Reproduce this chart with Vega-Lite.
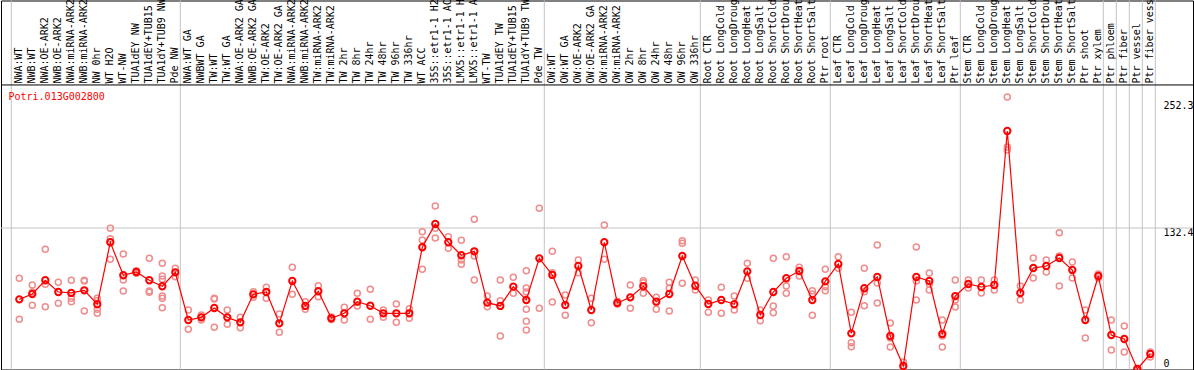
{
  "$schema": "https://vega.github.io/schema/vega-lite/v6.json",
  "autosize": {"type": "none"},
  "padding": {"left": 1, "top": 0.5, "right": 1, "bottom": 0.5},
  "width": 1192,
  "height": 369,
  "background": "white",
  "config": {"view": {"stroke": "black", "strokeWidth": 1}},
  "title": {"text": "Potri.013G002800", "anchor": "start", "offset": -103, "dx": 8, "color": "#ff0000", "font": "DejaVu Sans Mono", "fontSize": 10, "fontWeight": "normal"},
  "datasets": {
    "means": [
      {"sample": "NWA:WT", "value": 65.4}, {"sample": "NWB:WT", "value": 70.4}, {"sample": "NWA:OE-ARK2", "value": 83.3}, {"sample": "NWB:OE-ARK2", "value": 72.3},
      {"sample": "NWA:miRNA-ARK2", "value": 71.4}, {"sample": "NWB:miRNA-ARK2", "value": 73.9}, {"sample": "NW 0hr", "value": 60.8}, {"sample": "WT H2O", "value": 119.0},
      {"sample": "WT-NW", "value": 88.0}, {"sample": "TUA1dEY NW", "value": 91.1}, {"sample": "TUA1dEY+TUB15 NW", "value": 83.3}, {"sample": "TUA1dY+TUB9 NW", "value": 77.7},
      {"sample": "Pde NW", "value": 90.8}, {"sample": "NWA:WT GA", "value": 46.0}, {"sample": "NWBWT GA", "value": 48.5}, {"sample": "TW:WT", "value": 57.3},
      {"sample": "TW:WT GA", "value": 48.5}, {"sample": "NWA:OE-ARK2 GA", "value": 43.8}, {"sample": "NWB:OE-ARK2 GA", "value": 70.1}, {"sample": "TW:OE-ARK2", "value": 72.3},
      {"sample": "TW:OE-ARK2 GA", "value": 42.9}, {"sample": "NWA:miRNA-ARK2 GA", "value": 82.6}, {"sample": "NWB:miRNA-ARK2 GA", "value": 59.2}, {"sample": "TW:miRNA-ARK2", "value": 73.0},
      {"sample": "TW:miRNA-ARK2 GA", "value": 47.6}, {"sample": "TW 2hr", "value": 52.3}, {"sample": "TW 8hr", "value": 63.2}, {"sample": "TW 24hr", "value": 59.4},
      {"sample": "TW 48hr", "value": 52.3}, {"sample": "TW 96hr", "value": 52.3}, {"sample": "TW 336hr", "value": 52.3}, {"sample": "WT ACC", "value": 114.3},
      {"sample": "35S::etr1-1 H2O", "value": 136.2}, {"sample": "35S::etr1-1 ACC", "value": 119.0}, {"sample": "LMX5::etr1-1 H2O", "value": 106.8}, {"sample": "LMX5::etr1-1 ACC", "value": 110.5},
      {"sample": "WT-TW", "value": 62.3}, {"sample": "TUA1dEY TW", "value": 59.2}, {"sample": "TUA1dEY+TUB15 TW", "value": 77.3}, {"sample": "TUA1dY+TUB9 TW", "value": 64.8},
      {"sample": "Pde TW", "value": 103.9}, {"sample": "OW:WT", "value": 88.3}, {"sample": "OW:WT GA", "value": 60.1}, {"sample": "OW:OE-ARK2", "value": 96.7},
      {"sample": "OW:OE-ARK2 GA", "value": 55.4}, {"sample": "OW:miRNA-ARK2", "value": 119.0}, {"sample": "OW:miRNA-ARK2 GA", "value": 62.0}, {"sample": "OW 2hr", "value": 67.3},
      {"sample": "OW 8hr", "value": 77.7}, {"sample": "OW 24hr", "value": 63.2}, {"sample": "OW 48hr", "value": 70.4}, {"sample": "OW 96hr", "value": 106.1},
      {"sample": "OW 336hr", "value": 78.2}, {"sample": "Root CTR", "value": 61.0}, {"sample": "Root LongCold", "value": 64.8}, {"sample": "Root LongDrought", "value": 60.8},
      {"sample": "Root LongHeat", "value": 91.7}, {"sample": "Root LongSalt", "value": 50.7}, {"sample": "Root ShortCold", "value": 72.3}, {"sample": "Root ShortDrought", "value": 85.2},
      {"sample": "Root ShortHeat", "value": 92.0}, {"sample": "Root ShortSalt", "value": 64.8}, {"sample": "Ptr root", "value": 82.3}, {"sample": "Leaf CTR", "value": 98.6},
      {"sample": "Leaf LongCold", "value": 33.5}, {"sample": "Leaf LongDrought", "value": 75.8}, {"sample": "Leaf LongHeat", "value": 86.4}, {"sample": "Leaf LongSalt", "value": 31.0},
      {"sample": "Leaf ShortCold", "value": 2.8}, {"sample": "Leaf ShortDrought", "value": 86.4}, {"sample": "Leaf ShortHeat", "value": 82.6}, {"sample": "Leaf ShortSalt", "value": 32.9},
      {"sample": "Ptr leaf", "value": 68.5}, {"sample": "Stem CTR", "value": 79.8}, {"sample": "Stem LongCold", "value": 77.0}, {"sample": "Stem LongDrought", "value": 78.9},
      {"sample": "Stem LongHeat", "value": 223.5}, {"sample": "Stem LongSalt", "value": 71.4}, {"sample": "Stem ShortCold", "value": 94.8}, {"sample": "Stem ShortDrought", "value": 96.7},
      {"sample": "Stem ShortHeat", "value": 104.2}, {"sample": "Stem ShortSalt", "value": 93.0}, {"sample": "Ptr shoot", "value": 46.0}, {"sample": "Ptr xylem", "value": 87.3},
      {"sample": "Ptr phloem", "value": 31.9}, {"sample": "Ptr fiber", "value": 28.2}, {"sample": "Ptr vessel", "value": 0}, {"sample": "Ptr fiber vessel", "value": 14.1}
    ],
    "reps": [
      {"sample": "NWA:WT", "value": 85.2}, {"sample": "NWA:WT", "value": 46.7},
      {"sample": "NWB:WT", "value": 78.9}, {"sample": "NWB:WT", "value": 59.8}, {"sample": "NWB:WT", "value": 72.3},
      {"sample": "NWA:OE-ARK2", "value": 112.4}, {"sample": "NWA:OE-ARK2", "value": 79.5}, {"sample": "NWA:OE-ARK2", "value": 58.5},
      {"sample": "NWB:OE-ARK2", "value": 81.4}, {"sample": "NWB:OE-ARK2", "value": 61.7},
      {"sample": "NWA:miRNA-ARK2", "value": 83.3}, {"sample": "NWA:miRNA-ARK2", "value": 66.4}, {"sample": "NWA:miRNA-ARK2", "value": 63.2},
      {"sample": "NWB:miRNA-ARK2", "value": 83.3}, {"sample": "NWB:miRNA-ARK2", "value": 54.5}, {"sample": "NWB:miRNA-ARK2", "value": 82.6},
      {"sample": "NW 0hr", "value": 66.4}, {"sample": "NW 0hr", "value": 64.1}, {"sample": "NW 0hr", "value": 56.1}, {"sample": "NW 0hr", "value": 52.3},
      {"sample": "WT H2O", "value": 132.1}, {"sample": "WT H2O", "value": 122.3}, {"sample": "WT H2O", "value": 103.0},
      {"sample": "WT-NW", "value": 108.0}, {"sample": "WT-NW", "value": 83.6}, {"sample": "WT-NW", "value": 73.2},
      {"sample": "TUA1dEY NW", "value": 92.3}, {"sample": "TUA1dEY NW", "value": 89.9},
      {"sample": "TUA1dEY+TUB15 NW", "value": 103.9}, {"sample": "TUA1dEY+TUB15 NW", "value": 73.2}, {"sample": "TUA1dEY+TUB15 NW", "value": 72.0},
      {"sample": "TUA1dY+TUB9 NW", "value": 99.2}, {"sample": "TUA1dY+TUB9 NW", "value": 87.3}, {"sample": "TUA1dY+TUB9 NW", "value": 84.2}, {"sample": "TUA1dY+TUB9 NW", "value": 68.5}, {"sample": "TUA1dY+TUB9 NW", "value": 66.4}, {"sample": "TUA1dY+TUB9 NW", "value": 57.6},
      {"sample": "Pde NW", "value": 94.6}, {"sample": "Pde NW", "value": 86.7},
      {"sample": "NWA:WT GA", "value": 55.4}, {"sample": "NWA:WT GA", "value": 37.3},
      {"sample": "NWBWT GA", "value": 50.7}, {"sample": "NWBWT GA", "value": 46.0},
      {"sample": "TW:WT", "value": 66.4}, {"sample": "TW:WT", "value": 39.2}, {"sample": "TW:WT", "value": 65.7},
      {"sample": "TW:WT GA", "value": 55.4}, {"sample": "TW:WT GA", "value": 42.0},
      {"sample": "NWA:OE-ARK2 GA", "value": 48.5}, {"sample": "NWA:OE-ARK2 GA", "value": 38.8},
      {"sample": "NWB:OE-ARK2 GA", "value": 72.6}, {"sample": "NWB:OE-ARK2 GA", "value": 67.3},
      {"sample": "TW:OE-ARK2", "value": 76.7}, {"sample": "TW:OE-ARK2", "value": 66.4},
      {"sample": "TW:OE-ARK2 GA", "value": 51.6}, {"sample": "TW:OE-ARK2 GA", "value": 34.5},
      {"sample": "NWA:miRNA-ARK2 GA", "value": 95.5}, {"sample": "NWA:miRNA-ARK2 GA", "value": 70.1},
      {"sample": "NWB:miRNA-ARK2 GA", "value": 63.2}, {"sample": "NWB:miRNA-ARK2 GA", "value": 56.1},
      {"sample": "TW:miRNA-ARK2", "value": 78.2}, {"sample": "TW:miRNA-ARK2", "value": 67.9},
      {"sample": "TW:miRNA-ARK2 GA", "value": 48.8}, {"sample": "TW:miRNA-ARK2 GA", "value": 46.5},
      {"sample": "TW 2hr", "value": 57.9}, {"sample": "TW 2hr", "value": 46.0},
      {"sample": "TW 8hr", "value": 71.1}, {"sample": "TW 8hr", "value": 59.2},
      {"sample": "TW 24hr", "value": 74.8}, {"sample": "TW 24hr", "value": 46.7},
      {"sample": "TW 48hr", "value": 55.4}, {"sample": "TW 48hr", "value": 48.5},
      {"sample": "TW 96hr", "value": 61.0}, {"sample": "TW 96hr", "value": 43.8},
      {"sample": "TW 336hr", "value": 56.6}, {"sample": "TW 336hr", "value": 47.6},
      {"sample": "WT ACC", "value": 128.9}, {"sample": "WT ACC", "value": 121.1}, {"sample": "WT ACC", "value": 93.6},
      {"sample": "35S::etr1-1 H2O", "value": 153.1}, {"sample": "35S::etr1-1 H2O", "value": 132.1}, {"sample": "35S::etr1-1 H2O", "value": 123.0},
      {"sample": "35S::etr1-1 ACC", "value": 124.2}, {"sample": "35S::etr1-1 ACC", "value": 113.3},
      {"sample": "LMX5::etr1-1 H2O", "value": 120.8}, {"sample": "LMX5::etr1-1 H2O", "value": 102.3}, {"sample": "LMX5::etr1-1 H2O", "value": 98.3},
      {"sample": "LMX5::etr1-1 ACC", "value": 140.6}, {"sample": "LMX5::etr1-1 ACC", "value": 106.1}, {"sample": "LMX5::etr1-1 ACC", "value": 83.6},
      {"sample": "WT-TW", "value": 68.5}, {"sample": "WT-TW", "value": 58.5},
      {"sample": "TUA1dEY TW", "value": 83.6}, {"sample": "TUA1dEY TW", "value": 64.1}, {"sample": "TUA1dEY TW", "value": 31.0},
      {"sample": "TUA1dEY+TUB15 TW", "value": 86.1}, {"sample": "TUA1dEY+TUB15 TW", "value": 71.1},
      {"sample": "TUA1dY+TUB9 TW", "value": 92.3}, {"sample": "TUA1dY+TUB9 TW", "value": 76.1}, {"sample": "TUA1dY+TUB9 TW", "value": 72.3}, {"sample": "TUA1dY+TUB9 TW", "value": 56.1}, {"sample": "TUA1dY+TUB9 TW", "value": 44.8}, {"sample": "TUA1dY+TUB9 TW", "value": 36.6},
      {"sample": "Pde TW", "value": 150.9}, {"sample": "Pde TW", "value": 57.0},
      {"sample": "OW:WT", "value": 110.5}, {"sample": "OW:WT", "value": 90.4}, {"sample": "OW:WT", "value": 62.9},
      {"sample": "OW:WT GA", "value": 69.5}, {"sample": "OW:WT GA", "value": 50.4},
      {"sample": "OW:OE-ARK2", "value": 102.3}, {"sample": "OW:OE-ARK2", "value": 90.4},
      {"sample": "OW:OE-ARK2 GA", "value": 66.4}, {"sample": "OW:OE-ARK2 GA", "value": 43.5},
      {"sample": "OW:miRNA-ARK2", "value": 135.2}, {"sample": "OW:miRNA-ARK2", "value": 103.0},
      {"sample": "OW:miRNA-ARK2 GA", "value": 63.6}, {"sample": "OW:miRNA-ARK2 GA", "value": 61.0},
      {"sample": "OW 2hr", "value": 78.9}, {"sample": "OW 2hr", "value": 57.0},
      {"sample": "OW 8hr", "value": 82.9}, {"sample": "OW 8hr", "value": 81.0}, {"sample": "OW 8hr", "value": 71.1},
      {"sample": "OW 24hr", "value": 67.3}, {"sample": "OW 24hr", "value": 56.1},
      {"sample": "OW 48hr", "value": 81.4}, {"sample": "OW 48hr", "value": 75.8}, {"sample": "OW 48hr", "value": 54.5},
      {"sample": "OW 96hr", "value": 120.5}, {"sample": "OW 96hr", "value": 118.0}, {"sample": "OW 96hr", "value": 80.5},
      {"sample": "OW 336hr", "value": 83.6}, {"sample": "OW 336hr", "value": 74.2},
      {"sample": "Root CTR", "value": 64.8}, {"sample": "Root CTR", "value": 53.2},
      {"sample": "Root LongCold", "value": 76.7}, {"sample": "Root LongCold", "value": 52.3},
      {"sample": "Root LongDrought", "value": 68.5}, {"sample": "Root LongDrought", "value": 55.4},
      {"sample": "Root LongHeat", "value": 99.2}, {"sample": "Root LongHeat", "value": 85.2},
      {"sample": "Root LongSalt", "value": 55.4}, {"sample": "Root LongSalt", "value": 45.4},
      {"sample": "Root ShortCold", "value": 103.9}, {"sample": "Root ShortCold", "value": 59.2}, {"sample": "Root ShortCold", "value": 52.9},
      {"sample": "Root ShortDrought", "value": 105.4}, {"sample": "Root ShortDrought", "value": 77.9}, {"sample": "Root ShortDrought", "value": 71.1},
      {"sample": "Root ShortHeat", "value": 95.5}, {"sample": "Root ShortHeat", "value": 87.3},
      {"sample": "Root ShortSalt", "value": 73.5}, {"sample": "Root ShortSalt", "value": 70.4}, {"sample": "Root ShortSalt", "value": 50.4},
      {"sample": "Ptr root", "value": 93.6}, {"sample": "Ptr root", "value": 77.3}, {"sample": "Ptr root", "value": 73.5},
      {"sample": "Leaf CTR", "value": 105.4}, {"sample": "Leaf CTR", "value": 94.6},
      {"sample": "Leaf LongCold", "value": 53.2}, {"sample": "Leaf LongCold", "value": 24.7}, {"sample": "Leaf LongCold", "value": 20.9},
      {"sample": "Leaf LongDrought", "value": 94.6}, {"sample": "Leaf LongDrought", "value": 72.6}, {"sample": "Leaf LongDrought", "value": 59.4},
      {"sample": "Leaf LongHeat", "value": 116.4}, {"sample": "Leaf LongHeat", "value": 80.8}, {"sample": "Leaf LongHeat", "value": 62.0},
      {"sample": "Leaf LongSalt", "value": 43.2}, {"sample": "Leaf LongSalt", "value": 29.1}, {"sample": "Leaf LongSalt", "value": 20.7},
      {"sample": "Leaf ShortCold", "value": 6.6}, {"sample": "Leaf ShortCold", "value": 0.9},
      {"sample": "Leaf ShortDrought", "value": 114.6}, {"sample": "Leaf ShortDrought", "value": 82.6}, {"sample": "Leaf ShortDrought", "value": 64.8},
      {"sample": "Leaf ShortHeat", "value": 90.1}, {"sample": "Leaf ShortHeat", "value": 79.8}, {"sample": "Leaf ShortHeat", "value": 74.2},
      {"sample": "Leaf ShortSalt", "value": 46.0}, {"sample": "Leaf ShortSalt", "value": 31.0}, {"sample": "Leaf ShortSalt", "value": 20.7},
      {"sample": "Ptr leaf", "value": 83.6}, {"sample": "Ptr leaf", "value": 64.8}, {"sample": "Ptr leaf", "value": 58.2},
      {"sample": "Stem CTR", "value": 83.6}, {"sample": "Stem CTR", "value": 76.1},
      {"sample": "Stem LongCold", "value": 83.6}, {"sample": "Stem LongCold", "value": 71.4},
      {"sample": "Stem LongDrought", "value": 83.6}, {"sample": "Stem LongDrought", "value": 74.2},
      {"sample": "Stem LongHeat", "value": 255.4}, {"sample": "Stem LongHeat", "value": 208.5}, {"sample": "Stem LongHeat", "value": 205.6},
      {"sample": "Stem LongSalt", "value": 77.9}, {"sample": "Stem LongSalt", "value": 64.8},
      {"sample": "Stem ShortCold", "value": 104.2}, {"sample": "Stem ShortCold", "value": 94.8}, {"sample": "Stem ShortCold", "value": 85.4},
      {"sample": "Stem ShortDrought", "value": 102.3}, {"sample": "Stem ShortDrought", "value": 91.1},
      {"sample": "Stem ShortHeat", "value": 128.0}, {"sample": "Stem ShortHeat", "value": 106.1}, {"sample": "Stem ShortHeat", "value": 77.9},
      {"sample": "Stem ShortSalt", "value": 100.5}, {"sample": "Stem ShortSalt", "value": 85.4},
      {"sample": "Ptr shoot", "value": 55.4}, {"sample": "Ptr shoot", "value": 29.1},
      {"sample": "Ptr xylem", "value": 89.2}, {"sample": "Ptr xylem", "value": 85.4},
      {"sample": "Ptr phloem", "value": 46.0}, {"sample": "Ptr phloem", "value": 17.8},
      {"sample": "Ptr fiber", "value": 40.4}, {"sample": "Ptr fiber", "value": 16.0},
      {"sample": "Ptr vessel", "value": 0.5}, {"sample": "Ptr vessel", "value": 0},
      {"sample": "Ptr fiber vessel", "value": 16.0}, {"sample": "Ptr fiber vessel", "value": 11.3}
    ],
    "groupEnds": [
      {"sample": "Pde NW"}, {"sample": "Pde TW"}, {"sample": "OW 336hr"}, {"sample": "Ptr root"}, {"sample": "Ptr leaf"},
      {"sample": "Ptr xylem"}, {"sample": "Ptr phloem"}, {"sample": "Ptr fiber"}, {"sample": "Ptr vessel"}, {"sample": "Ptr fiber vessel"}
    ],
    "groupStarts": [{"sample": "NWA:WT"}]
  },
  "layer": [
    {
      "data": {"name": "groupStarts"},
      "mark": {"type": "rule", "color": "#c4c4c4", "strokeWidth": 1, "xOffset": -1.5},
      "encoding": {
        "x": {"field": "sample", "type": "nominal", "bandPosition": 0,
          "axis": {"orient": "top", "offset": -84.5, "title": null, "domain": false, "ticks": false, "tickSize": 0, "labelAngle": 270, "labelAlign": "left", "labelBaseline": "middle", "labelPadding": 2, "labelFont": "DejaVu Sans Mono", "labelFontSize": 10, "labelColor": "black", "labelOverlap": false, "labelLimit": 0, "labelExpr": "substring(datum.label, 0, 14)"}}
      }
    },
    {
      "data": {"name": "groupEnds"},
      "mark": {"type": "rule", "color": "#c4c4c4", "strokeWidth": 1, "xOffset": -1.5},
      "encoding": {
        "x": {"field": "sample", "type": "nominal", "bandPosition": 1,
          "axis": {"orient": "top", "offset": -84.5, "title": null, "domain": false, "ticks": false, "tickSize": 0, "labelAngle": 270, "labelAlign": "left", "labelBaseline": "middle", "labelPadding": 2, "labelFont": "DejaVu Sans Mono", "labelFontSize": 10, "labelColor": "black", "labelOverlap": false, "labelLimit": 0, "labelExpr": "substring(datum.label, 0, 14)"}}
      }
    },
    {
      "data": {"values": [{}]},
      "mark": {"type": "rule", "color": "#c4c4c4", "strokeWidth": 1},
      "encoding": {"y": {"datum": 132.4, "type": "quantitative",
        "axis": {"orient": "right", "offset": -30, "title": null, "values": [0, 132.4, 252.3], "format": ".1~f", "domain": false, "ticks": false, "tickSize": 0, "grid": false, "labelPadding": 0, "labelFont": "DejaVu Sans Mono", "labelFontSize": 10, "labelColor": "black", "labelAlign": "left", "labelBaseline": {"condition": {"test": "datum.value == 0", "value": "bottom"}, "value": "top"}, "labelFlush": false, "labelOverlap": false}}}
    },
    {
      "data": {"values": [{}]},
      "mark": {"type": "rule", "color": "black", "strokeWidth": 1},
      "encoding": {"y": {"datum": 266.7, "type": "quantitative",
        "axis": {"orient": "right", "offset": -30, "title": null, "values": [0, 132.4, 252.3], "format": ".1~f", "domain": false, "ticks": false, "tickSize": 0, "grid": false, "labelPadding": 0, "labelFont": "DejaVu Sans Mono", "labelFontSize": 10, "labelColor": "black", "labelAlign": "left", "labelBaseline": {"condition": {"test": "datum.value == 0", "value": "bottom"}, "value": "top"}, "labelFlush": false, "labelOverlap": false}}}
    },
    {
      "data": {"name": "reps"},
      "mark": {"type": "point", "shape": "circle", "filled": false, "stroke": "#f08c8c", "strokeWidth": 1.5, "size": 36, "opacity": 1},
      "encoding": {
        "x": {"field": "sample", "type": "nominal",
          "axis": {"orient": "top", "offset": -84.5, "title": null, "domain": false, "ticks": false, "tickSize": 0, "labelAngle": 270, "labelAlign": "left", "labelBaseline": "middle", "labelPadding": 2, "labelFont": "DejaVu Sans Mono", "labelFontSize": 10, "labelColor": "black", "labelOverlap": false, "labelLimit": 0, "labelExpr": "substring(datum.label, 0, 14)"}},
        "y": {"field": "value", "type": "quantitative",
          "axis": {"orient": "right", "offset": -30, "title": null, "values": [0, 132.4, 252.3], "format": ".1~f", "domain": false, "ticks": false, "tickSize": 0, "grid": false, "labelPadding": 0, "labelFont": "DejaVu Sans Mono", "labelFontSize": 10, "labelColor": "black", "labelAlign": "left", "labelBaseline": {"condition": {"test": "datum.value == 0", "value": "bottom"}, "value": "top"}, "labelFlush": false, "labelOverlap": false}}
      }
    },
    {
      "data": {"name": "means"},
      "mark": {"type": "line", "color": "#ff0000", "strokeWidth": 1.2},
      "encoding": {
        "x": {"field": "sample", "type": "nominal", "sort": null,
          "axis": {"orient": "top", "offset": -84.5, "title": null, "domain": false, "ticks": false, "tickSize": 0, "labelAngle": 270, "labelAlign": "left", "labelBaseline": "middle", "labelPadding": 2, "labelFont": "DejaVu Sans Mono", "labelFontSize": 10, "labelColor": "black", "labelOverlap": false, "labelLimit": 0, "labelExpr": "substring(datum.label, 0, 14)"}},
        "y": {"field": "value", "type": "quantitative",
          "axis": {"orient": "right", "offset": -30, "title": null, "values": [0, 132.4, 252.3], "format": ".1~f", "domain": false, "ticks": false, "tickSize": 0, "grid": false, "labelPadding": 0, "labelFont": "DejaVu Sans Mono", "labelFontSize": 10, "labelColor": "black", "labelAlign": "left", "labelBaseline": {"condition": {"test": "datum.value == 0", "value": "bottom"}, "value": "top"}, "labelFlush": false, "labelOverlap": false}}
      }
    },
    {
      "data": {"name": "means"},
      "mark": {"type": "point", "shape": "circle", "filled": false, "stroke": "#ff0000", "strokeWidth": 2, "size": 40, "opacity": 1},
      "encoding": {
        "x": {
          "field": "sample", "type": "nominal",
          "scale": {
            "domain": ["NWA:WT", "NWB:WT", "NWA:OE-ARK2", "NWB:OE-ARK2", "NWA:miRNA-ARK2", "NWB:miRNA-ARK2", "NW 0hr", "WT H2O", "WT-NW", "TUA1dEY NW", "TUA1dEY+TUB15 NW", "TUA1dY+TUB9 NW", "Pde NW",
              "NWA:WT GA", "NWBWT GA", "TW:WT", "TW:WT GA", "NWA:OE-ARK2 GA", "NWB:OE-ARK2 GA", "TW:OE-ARK2", "TW:OE-ARK2 GA", "NWA:miRNA-ARK2 GA", "NWB:miRNA-ARK2 GA", "TW:miRNA-ARK2", "TW:miRNA-ARK2 GA",
              "TW 2hr", "TW 8hr", "TW 24hr", "TW 48hr", "TW 96hr", "TW 336hr", "WT ACC", "35S::etr1-1 H2O", "35S::etr1-1 ACC", "LMX5::etr1-1 H2O", "LMX5::etr1-1 ACC", "WT-TW", "TUA1dEY TW", "TUA1dEY+TUB15 TW", "TUA1dY+TUB9 TW", "Pde TW",
              "OW:WT", "OW:WT GA", "OW:OE-ARK2", "OW:OE-ARK2 GA", "OW:miRNA-ARK2", "OW:miRNA-ARK2 GA", "OW 2hr", "OW 8hr", "OW 24hr", "OW 48hr", "OW 96hr", "OW 336hr",
              "Root CTR", "Root LongCold", "Root LongDrought", "Root LongHeat", "Root LongSalt", "Root ShortCold", "Root ShortDrought", "Root ShortHeat", "Root ShortSalt", "Ptr root",
              "Leaf CTR", "Leaf LongCold", "Leaf LongDrought", "Leaf LongHeat", "Leaf LongSalt", "Leaf ShortCold", "Leaf ShortDrought", "Leaf ShortHeat", "Leaf ShortSalt", "Ptr leaf",
              "Stem CTR", "Stem LongCold", "Stem LongDrought", "Stem LongHeat", "Stem LongSalt", "Stem ShortCold", "Stem ShortDrought", "Stem ShortHeat", "Stem ShortSalt", "Ptr shoot", "Ptr xylem",
              "Ptr phloem", "Ptr fiber", "Ptr vessel", "Ptr fiber vessel"],
            "range": [11.8, 1155.8],
            "paddingInner": 0,
            "paddingOuter": 0
          },
          "axis": {"orient": "top", "offset": -84.5, "title": null, "domain": false, "ticks": false, "tickSize": 0, "labelAngle": 270, "labelAlign": "left", "labelBaseline": "middle", "labelPadding": 2, "labelFont": "DejaVu Sans Mono", "labelFontSize": 10, "labelColor": "black", "labelOverlap": false, "labelLimit": 0, "labelExpr": "substring(datum.label, 0, 14)"}
        },
        "y": {
          "field": "value", "type": "quantitative",
          "scale": {"domain": [-0.47, 346.0], "nice": false, "zero": false},
          "axis": {"orient": "right", "offset": -30, "title": null, "values": [0, 132.4, 252.3], "format": ".1~f", "domain": false, "ticks": false, "tickSize": 0, "grid": false, "labelPadding": 0, "labelFont": "DejaVu Sans Mono", "labelFontSize": 10, "labelColor": "black", "labelAlign": "left", "labelBaseline": {"condition": {"test": "datum.value == 0", "value": "bottom"}, "value": "top"}, "labelFlush": false, "labelOverlap": false}
        }
      }
    }
  ]
}
